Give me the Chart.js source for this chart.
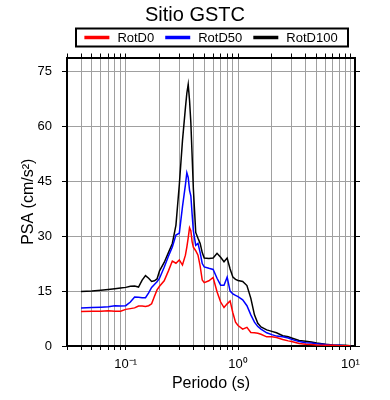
<!DOCTYPE html>
<html>
<head>
<meta charset="utf-8">
<script src="https://cdn.jsdelivr.net/npm/chart.js@4.4.1/dist/chart.umd.min.js"></script>
<style>
  html, body { margin: 0; padding: 0; background: #fff; }
  #wrap { width: 390px; height: 400px; }
</style>
</head>
<body>
<div id="wrap"><canvas id="psaChart" width="390" height="400"></canvas></div>
<script>
// --- Data ---
const periods = [0.04, 0.05, 0.06, 0.07, 0.08, 0.09, 0.10, 0.11, 0.12, 0.13, 0.14, 0.15, 0.16, 0.17, 0.18, 0.19,
    0.20, 0.22, 0.24, 0.26, 0.28, 0.30, 0.32, 0.34, 0.35, 0.36, 0.37, 0.38, 0.39, 0.40, 0.42, 0.44, 0.46, 0.48,
    0.50, 0.55, 0.60, 0.65, 0.70, 0.75, 0.80, 0.85, 0.90, 0.95, 1.0, 1.1, 1.2, 1.3, 1.4, 1.5, 1.6, 1.8,
    2.0, 2.2, 2.5, 2.8, 3.0, 3.5, 4.0, 4.5, 5.0, 6.0, 7.0, 8.0, 9.0, 10.0];

const rotD0 = [9.4, 9.5, 9.5, 9.6, 9.5, 9.5, 10.0, 10.2, 10.4, 10.9, 10.9, 10.8, 11.0, 11.5, 13.5, 15.3,
    16.3, 17.8, 20.5, 23.2, 22.6, 23.5, 22.1, 24.8, 27.0, 29.5, 32.3, 31.5, 28.5, 27.0, 26.0, 24.8, 21.8, 18.0,
    17.3, 17.8, 18.7, 14.8, 12.0, 10.5, 11.5, 12.3, 9.0, 6.5, 5.6, 4.6, 5.1, 3.7, 3.6, 3.5, 3.2, 2.5,
    2.5, 2.3, 1.8, 1.4, 1.2, 0.7, 0.5, 0.4, 0.3, 0.2, 0.2, 0.1, 0.1, 0.1];

const rotD50 = [10.4, 10.5, 10.6, 10.7, 11.0, 10.9, 11.0, 12.0, 13.4, 13.3, 13.2, 13.2, 14.5, 16.0, 16.8, 17.5,
    18.5, 21.5, 24.5, 27.0, 30.3, 30.8, 38.0, 44.0, 47.3, 46.0, 42.5, 41.0, 36.0, 31.5, 27.5, 28.0, 25.5, 22.5,
    21.6, 21.2, 20.9, 18.5, 16.6, 16.6, 18.8, 15.0, 14.2, 13.8, 13.5, 12.6, 11.0, 8.5, 6.5, 5.3, 4.6, 3.6,
    3.1, 2.7, 2.5, 2.2, 1.8, 1.2, 0.9, 0.8, 0.6, 0.4, 0.2, 0.2, 0.1, 0.1];

const rotD100 = [14.9, 15.0, 15.2, 15.4, 15.6, 15.8, 16.0, 16.3, 16.4, 16.1, 18.0, 19.2, 18.5, 17.6, 17.8, 18.3,
    20.5, 22.8, 25.5, 28.0, 33.0, 44.0, 56.0, 65.0, 69.0, 71.4, 67.0, 61.0, 52.0, 43.0, 31.0, 29.4, 28.0, 25.5,
    24.0, 23.9, 24.0, 25.3, 24.2, 23.0, 24.0, 21.0, 18.8, 18.2, 17.9, 17.6, 16.5, 13.0, 8.5, 6.2, 5.2, 4.4,
    4.0, 3.6, 2.8, 2.5, 2.2, 1.5, 1.3, 1.1, 0.8, 0.5, 0.3, 0.2, 0.2, 0.1];

const seriesLabels = ['RotD0', 'RotD50', 'RotD100'];
const seriesColors = ['#ff0000', '#0000ff', '#000000'];

// --- Axes ---
const xMin = 0.03, xMax = 11;
const yMin = 0, yMax = 78.75;
const yTicks = [0, 15, 30, 45, 60, 75];
const xLabelValues = [0.1, 1, 10];
const xLabelTexts = ['10\u207B\u00B9', '10\u2070', '10\u00B9'];

// log grid: 2..9 x 10^n plus decades, inside [xMin, 10]
const xGrid = [];
[0.01, 0.1, 1].forEach(dec => {
    for (let m = 1; m <= 9; m++) {
        const v = +(m * dec).toPrecision(3);
        if (v >= xMin) xGrid.push(v);
    }
});
xGrid.push(10);

const FONT = '"Liberation Sans", Arial, Helvetica, sans-serif';
Chart.defaults.font.family = FONT;
Chart.defaults.color = '#000';

const GRID = '#a0a0a0';

function makeDataset(label, values, color) {
    return {
        label: label,
        data: periods.map((p, i) => ({ x: p, y: values[i] })),
        borderColor: color,
        backgroundColor: color,
        borderWidth: 1.5,
        pointRadius: 0,
        tension: 0,
        fill: false
    };
}

// legend drawn as a boxed row, centred over the plot
const boxLegend = {
    id: 'boxLegend',
    afterDraw(chart) {
        const ctx = chart.ctx;
        const area = chart.chartArea;
        const lineW = 25, gapText = 8, gapItem = 11;
        ctx.save();
        ctx.font = '13px ' + FONT;
        const items = chart.data.datasets.map(ds => ({
            text: ds.label, color: ds.borderColor, w: ctx.measureText(ds.label).width
        }));
        const total = items.reduce((s, it) => s + lineW + gapText + it.w, 0) + gapItem * (items.length - 1);
        const cx = (area.left + area.right) / 2;
        const cy = area.top - 20;
        let x = cx - total / 2;

        ctx.strokeStyle = '#000';
        ctx.lineWidth = 2;
        ctx.strokeRect(Math.round(x - 8), cy - 9, Math.round(total + 19), 18);

        ctx.textBaseline = 'middle';
        ctx.textAlign = 'left';
        items.forEach(it => {
            ctx.strokeStyle = it.color;
            ctx.lineWidth = 3.5;
            ctx.beginPath();
            ctx.moveTo(x, cy);
            ctx.lineTo(x + lineW, cy);
            ctx.stroke();
            ctx.fillStyle = '#000';
            ctx.fillText(it.text, x + lineW + gapText, cy + 0.5);
            x += lineW + gapText + it.w + gapItem;
        });
        ctx.restore();
    }
};

function setXTicks(scale) {
    scale.ticks = xGrid.map(v => ({ value: v, major: xLabelValues.includes(v) }));
}
function setYTicks(scale) {
    scale.ticks = yTicks.map(v => ({ value: v }));
}

const ctx = document.getElementById('psaChart').getContext('2d');
new Chart(ctx, {
    type: 'line',
    data: {
        datasets: [
            makeDataset(seriesLabels[0], rotD0, seriesColors[0]),
            makeDataset(seriesLabels[1], rotD50, seriesColors[1]),
            makeDataset(seriesLabels[2], rotD100, seriesColors[2])
        ]
    },
    options: {
        responsive: false,
        animation: false,
        layout: { padding: 0 },
        plugins: {
            legend: { display: false },
            tooltip: { enabled: false },
            title: {
                display: true,
                text: 'Sitio GSTC',
                color: '#000',
                font: { size: 20, weight: 'normal', lineHeight: 1.2 },
                padding: { top: 3, bottom: 24.5 }
            }
        },
        scales: {
            x: {
                type: 'logarithmic',
                position: 'bottom',
                min: xMin,
                max: xMax,
                afterBuildTicks: setXTicks,
                afterFit: s => { s.height = 54; },
                grid: { color: GRID, lineWidth: 1, drawTicks: true, tickLength: 4, tickColor: '#000' },
                border: { color: '#000', width: 2 },
                ticks: {
                    autoSkip: false,
                    maxRotation: 0,
                    padding: 7,
                    font: { size: 13 },
                    callback: v => {
                        const i = xLabelValues.indexOf(v);
                        return i >= 0 ? xLabelTexts[i] : '';
                    }
                },
                title: {
                    display: true,
                    text: 'Periodo (s)',
                    font: { size: 16 },
                    padding: { top: 0, bottom: 7 }
                }
            },
            xTop: {
                type: 'logarithmic',
                position: 'top',
                min: xMin,
                max: xMax,
                afterBuildTicks: setXTicks,
                afterFit: s => { s.height = 6; },
                grid: { drawOnChartArea: false, drawTicks: true, tickLength: 4, tickColor: '#000' },
                border: { color: '#000', width: 2 },
                ticks: { display: false }
            },
            y: {
                type: 'linear',
                position: 'left',
                min: yMin,
                max: yMax,
                afterBuildTicks: setYTicks,
                afterFit: s => { s.width = 67; },
                grid: { color: GRID, lineWidth: 1, drawTicks: true, tickLength: 5, tickColor: '#000' },
                border: { color: '#000', width: 2 },
                ticks: { padding: 10, font: { size: 13 } },
                title: {
                    display: true,
                    text: 'PSA (cm/s\u00B2)',
                    font: { size: 16 },
                    padding: { top: 19, bottom: 0 }
                }
            },
            yRight: {
                type: 'linear',
                position: 'right',
                min: yMin,
                max: yMax,
                afterBuildTicks: setYTicks,
                afterFit: s => { s.width = 35; },
                grid: { drawOnChartArea: false, drawTicks: true, tickLength: 5, tickColor: '#000' },
                border: { color: '#000', width: 2 },
                ticks: { display: false }
            }
        }
    },
    plugins: [boxLegend]
});
</script>
</body>
</html>
